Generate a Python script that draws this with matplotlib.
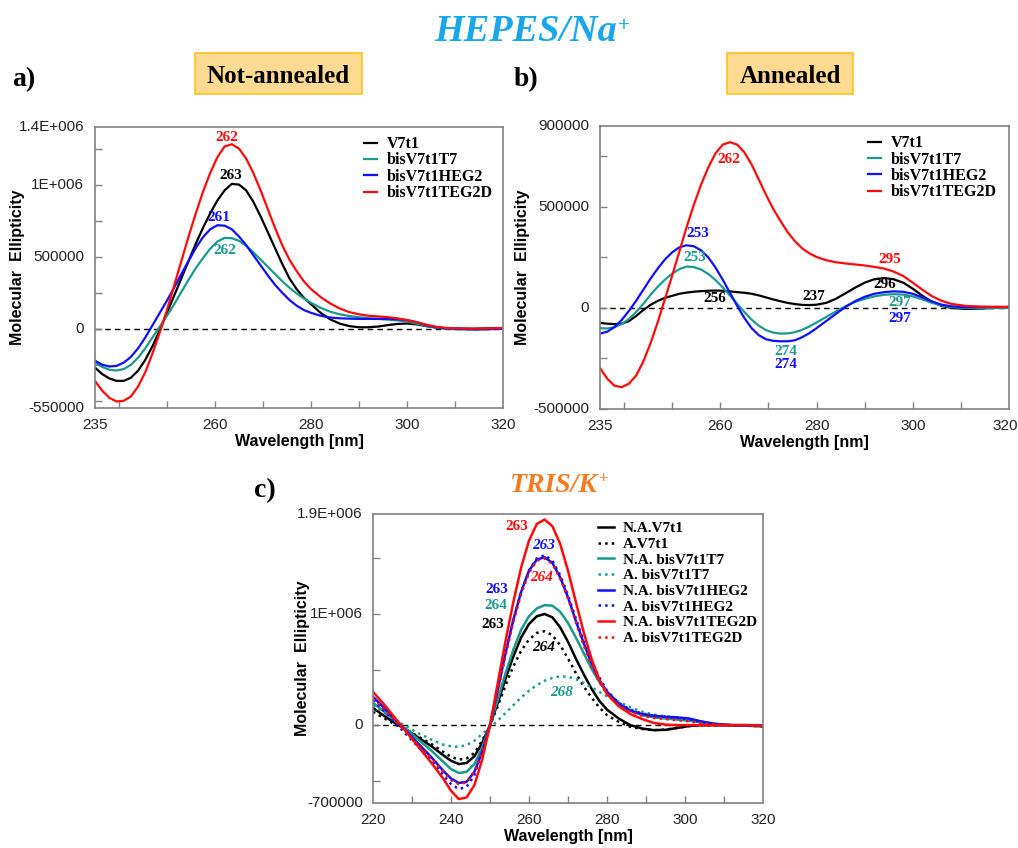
import matplotlib
matplotlib.use("Agg")
import matplotlib.pyplot as plt
from matplotlib.patches import Rectangle

SANS = "Liberation Sans"
SERIF = "Liberation Serif"

# ---- panel a / b (HEPES / Na+) ----
wl_ab = [235, 236.5, 238, 239.5, 241, 242.5, 244, 245.5, 247, 248.5, 250, 251.5,
         253, 254.5, 256, 257.5, 259, 260.5, 262, 263.5, 265, 266.5, 268, 269.5,
         271, 272.5, 274, 275.5, 277, 278.5, 280, 282, 284, 286, 288, 290,
         292, 294, 296, 298, 300, 302, 304, 306, 308, 311, 314, 317, 320]

# not annealed (values in 1e3)
a_v7t1 = [-270, -315, -345, -362, -362, -340, -290, -215, -120, -10, 110, 230,
          350, 470, 590, 700, 800, 890, 960, 1005, 1000, 960, 880, 780,
          670, 560, 450, 350, 275, 215, 170, 110, 65, 35, 18, 10,
          10, 15, 25, 33, 36, 30, 18, 8, 3, 0, 0, 2, 5]
a_t7 = [-235, -265, -285, -290, -280, -250, -200, -135, -60, 15, 90, 170,
        255, 340, 420, 490, 555, 605, 630, 628, 610, 575, 530, 480,
        430, 380, 330, 285, 245, 210, 180, 145, 118, 100, 88, 80,
        73, 68, 63, 58, 50, 35, 20, 8, 0, -5, -5, -3, 0]
a_heg2 = [-222, -250, -262, -258, -235, -195, -135, -60, 25, 110, 195, 285,
          380, 470, 560, 635, 690, 718, 715, 690, 640, 580, 510, 440,
          370, 305, 250, 200, 160, 130, 110, 90, 78, 72, 70, 68,
          68, 68, 68, 65, 60, 45, 25, 10, 3, 0, -5, -3, 0]
a_teg2d = [-363, -430, -480, -505, -500, -470, -400, -300, -170, -25, 130, 300,
           470, 640, 800, 950, 1080, 1190, 1265, 1280, 1250, 1180, 1080, 960,
           830, 700, 580, 480, 400, 330, 275, 220, 175, 140, 115, 100,
           90, 85, 80, 72, 60, 45, 28, 14, 6, 2, 0, 2, 5]

# annealed (values in 1e3)
b_v7t1 = [-74, -78, -80, -78, -65, -40, -10, 15, 35, 50, 60, 70,
          76, 80, 83, 85, 86, 85, 82, 78, 75, 70, 62, 52,
          42, 33, 25, 19, 15, 14, 16, 25, 45, 72, 100, 125,
          142, 148, 142, 125, 95, 60, 30, 10, 0, -5, -3, 0, 0]
b_t7 = [-100, -102, -95, -80, -55, -20, 20, 65, 105, 140, 170, 192,
        205, 202, 190, 168, 138, 102, 62, 20, -20, -58, -88, -110,
        -122, -127, -126, -120, -108, -92, -72, -45, -18, 8, 30, 45,
        57, 65, 68, 66, 57, 42, 25, 12, 4, 0, 0, 0, 0]
b_heg2 = [-127, -118, -95, -60, -15, 35, 90, 145, 195, 240, 275, 300,
          310, 305, 285, 250, 200, 140, 75, 10, -50, -100, -135, -155,
          -163, -165, -165, -160, -145, -125, -100, -65, -30, 5, 33, 55,
          70, 78, 82, 80, 70, 52, 32, 16, 8, 4, 4, 5, 5]
b_teg2d = [-297, -350, -385, -392, -375, -335, -265, -175, -70, 45, 160, 280,
           400, 510, 610, 695, 765, 808, 820, 808, 770, 710, 635, 560,
           490, 430, 375, 330, 295, 270, 252, 236, 226, 220, 215, 210,
           203, 195, 180, 158, 125, 90, 58, 35, 20, 10, 7, 5, 5]

# ---- panel c (TRIS / K+) ----
wl_c = [220, 223, 226, 229, 232, 235, 238, 240, 242, 244, 246, 248, 250, 252,
        254, 256, 258, 260, 262, 264, 266, 268, 270, 272, 274, 276, 278, 280,
        283, 286, 289, 292, 295, 298, 301, 304, 308, 312, 316, 320]

na_v7t1 = [155, 80, 10, -50, -120, -190, -270, -320, -350, -340, -280, -160, 0, 200,
           420, 620, 790, 910, 980, 1000, 970, 880, 750, 600, 460, 330, 220, 140,
           60, 0, -30, -45, -42, -25, -8, 0, 0, 0, -5, -10]
a_v7t1_c = [120, 60, 0, -50, -110, -170, -240, -285, -310, -300, -250, -140, 0, 170,
            360, 530, 670, 770, 830, 845, 810, 720, 600, 470, 350, 250, 160, 90,
            30, -15, -35, -45, -40, -25, -8, 0, 0, 0, -5, -10]
na_t7 = [200, 120, 30, -50, -140, -230, -330, -395, -430, -420, -350, -200, 0, 230,
         470, 680, 860, 980, 1050, 1080, 1075, 1020, 920, 790, 650, 510, 390, 300,
         200, 130, 90, 70, 60, 50, 40, 25, 5, 0, 0, -5]
a_t7_c = [180, 110, 40, -20, -80, -130, -175, -190, -195, -180, -140, -80, -20, 40,
          110, 180, 250, 310, 360, 400, 425, 440, 435, 415, 380, 340, 300, 260,
          210, 160, 120, 95, 80, 70, 55, 35, 10, 0, 0, -5]
na_heg2 = [255, 150, 40, -70, -180, -290, -410, -480, -520, -510, -420, -240, 0, 320,
           650, 950, 1200, 1390, 1490, 1510, 1460, 1330, 1150, 940, 740, 560, 410, 300,
           190, 130, 100, 85, 75, 70, 60, 35, 10, 0, 0, -5]
a_heg2_c = [225, 120, 10, -100, -210, -320, -450, -530, -575, -555, -450, -260, 0, 320,
            650, 950, 1200, 1390, 1500, 1530, 1480, 1350, 1170, 960, 760, 580, 430, 310,
            200, 140, 105, 85, 75, 65, 55, 30, 10, 0, 0, -5]
na_teg2d = [300, 180, 50, -80, -210, -340, -480, -590, -665, -650, -540, -310, 0, 380,
            760, 1110, 1420, 1660, 1810, 1850, 1790, 1630, 1390, 1110, 840, 600, 410, 280,
            170, 100, 55, 20, 5, 0, 0, 0, 0, 0, 0, -5]
a_teg2d_c = [240, 140, 30, -80, -190, -300, -420, -495, -530, -515, -420, -240, 0, 310,
             630, 930, 1180, 1370, 1480, 1500, 1450, 1320, 1140, 930, 720, 540, 390, 280,
             175, 120, 85, 65, 55, 45, 35, 20, 5, 0, 0, -5]

BLACK = "#000000"
TEAL = "#1a9a8c"
BLUE = "#1010ff"
RED = "#ff0a0a"


def k(vals):
    return [v * 1000 for v in vals]


def style_axes(ax, xlim, ylim, xticks, xlabels, yminor, ylabels, ylab_x):
    ax.set_xlim(*xlim)
    ax.set_ylim(*ylim)
    ax.set_xticks(xticks)
    ax.set_xticklabels([])
    ax.set_yticks(yminor)
    ax.set_yticklabels([])
    ax.tick_params(direction="in", length=5, color="#808080", width=1)
    for s in ax.spines.values():
        s.set_color("#808080")
        s.set_linewidth(1.2)
    for xv, lab in xlabels:
        ax.text(xv, -0.035, lab, transform=ax.get_xaxis_transform(),
                ha="center", va="top", fontsize=11, family=SANS, color="#222222")
    for yv, lab in ylabels:
        ax.text(-0.026, yv, lab, transform=ax.get_yaxis_transform(),
                ha="right", va="center", fontsize=11, family=SANS, color="#222222")
    ax.axhline(0, color="black", lw=1, ls=(0, (4, 3)), zorder=1)
    ax.set_xlabel("Wavelength [nm]", fontsize=11.5, fontweight="bold", family=SANS, labelpad=15)
    ax.set_ylabel("Molecular  Ellipticity", fontsize=11.5, fontweight="bold", family=SANS)
    ax.yaxis.set_label_coords(ylab_x, 0.5)


def legend(ax, anchor, spacing, size, hlen):
    return ax.legend(loc="upper right", bbox_to_anchor=anchor, frameon=False,
                     handlelength=hlen, handletextpad=0.6, labelspacing=spacing,
                     borderaxespad=0,
                     prop={"family": SERIF, "weight": "bold", "size": size})


fig = plt.figure(figsize=(10.18, 8.48), dpi=100)

# ---- panel a ----
ax_a = fig.add_axes([0.0933, 0.5189, 0.4008, 0.3314])
ax_a.plot(wl_ab, k(a_v7t1), color=BLACK, lw=1.6, label="V7t1")
ax_a.plot(wl_ab, k(a_t7), color=TEAL, lw=1.6, label="bisV7t1T7")
ax_a.plot(wl_ab, k(a_heg2), color=BLUE, lw=1.6, label="bisV7t1HEG2")
ax_a.plot(wl_ab, k(a_teg2d), color=RED, lw=1.6, label="bisV7t1TEG2D")
style_axes(ax_a, (235, 320), (-550000, 1400000), list(range(240, 320, 10)),
           [(235, "235"), (260, "260"), (280, "280"), (300, "300"), (320, "320")],
           list(range(-500000, 1400001, 250000)),
           [(1400000, "1.4E+006"), (1000000, "1E+006"), (500000, "500000"),
            (0, "0"), (-550000, "-550000")], -0.172)
legend(ax_a, (0.99, 0.99), 0.02, 11.5, 0.8)
lab_a = [(262.4, 1327000, "262", RED), (263.3, 1060000, "263", BLACK),
         (260.8, 772000, "261", BLUE), (262.1, 540000, "262", TEAL)]
for x, y, t, c in lab_a:
    ax_a.text(x, y, t, color=c, ha="center", va="center", fontsize=11,
              family=SERIF, fontweight="bold")

# ---- panel b ----
ax_b = fig.add_axes([0.5894, 0.5177, 0.4018, 0.3337])
ax_b.plot(wl_ab, k(b_v7t1), color=BLACK, lw=1.6, label="V7t1")
ax_b.plot(wl_ab, k(b_t7), color=TEAL, lw=1.6, label="bisV7t1T7")
ax_b.plot(wl_ab, k(b_heg2), color=BLUE, lw=1.6, label="bisV7t1HEG2")
ax_b.plot(wl_ab, k(b_teg2d), color=RED, lw=1.6, label="bisV7t1TEG2D")
style_axes(ax_b, (235, 320), (-500000, 900000), list(range(240, 320, 10)),
           [(235, "235"), (260, "260"), (280, "280"), (300, "300"), (319.2, "320")],
           list(range(-500000, 900001, 250000)),
           [(900000, "900000"), (500000, "500000"), (0, "0"), (-500000, "-500000")], -0.171)
legend(ax_b, (0.985, 0.99), 0.02, 11.5, 0.8)
lab_b = [(261.7, 734000, "262", RED), (255.4, 368000, "253", BLUE),
         (254.7, 248000, "253", TEAL), (258.9, 45000, "256", BLACK),
         (279.5, 58000, "237", BLACK), (294.2, 115000, "296", BLACK),
         (295.2, 239000, "295", RED), (297.2, 28000, "297", TEAL),
         (297.2, -50000, "297", BLUE), (273.7, -215000, "274", TEAL),
         (273.7, -280000, "274", BLUE)]
for x, y, t, c in lab_b:
    ax_b.text(x, y, t, color=c, ha="center", va="center", fontsize=11,
              family=SERIF, fontweight="bold")

# ---- panel c ----
ax_c = fig.add_axes([0.3664, 0.0531, 0.3831, 0.3408])
ax_c.plot(wl_c, k(na_v7t1), color=BLACK, lw=1.8, label="N.A.V7t1")
ax_c.plot(wl_c, k(a_v7t1_c), color=BLACK, lw=1.8, ls=":", label="A.V7t1")
ax_c.plot(wl_c, k(na_t7), color=TEAL, lw=1.8, label="N.A. bisV7t1T7")
ax_c.plot(wl_c, k(a_t7_c), color=TEAL, lw=1.8, ls=":", label="A. bisV7t1T7")
ax_c.plot(wl_c, k(na_heg2), color=BLUE, lw=1.8, label="N.A. bisV7t1HEG2")
ax_c.plot(wl_c, k(a_heg2_c), color=BLUE, lw=1.8, ls=":", label="A. bisV7t1HEG2")
ax_c.plot(wl_c, k(na_teg2d), color=RED, lw=1.8, label="N.A. bisV7t1TEG2D")
ax_c.plot(wl_c, k(a_teg2d_c), color=RED, lw=1.8, ls=":", label="A. bisV7t1TEG2D")
style_axes(ax_c, (220, 320), (-700000, 1900000), list(range(230, 320, 10)),
           [(v, str(v)) for v in range(220, 321, 20)],
           list(range(-500000, 1900001, 500000)),
           [(1900000, "1.9E+006"), (1000000, "1E+006"), (0, "0"), (-700000, "-700000")], -0.162)
legend(ax_c, (1.0, 0.995), 0.13, 11, 1.0)
lab_c = [(256.8, 1790000, "263", RED, "normal"), (263.7, 1620000, "263", BLUE, "italic"),
         (263.2, 1330000, "264", RED, "italic"), (251.7, 1220000, "263", BLUE, "normal"),
         (251.5, 1080000, "264", TEAL, "normal"), (250.8, 910000, "263", BLACK, "normal"),
         (263.7, 703000, "264", BLACK, "italic"), (268.4, 290000, "268", TEAL, "italic")]
for x, y, t, c, st in lab_c:
    ax_c.text(x, y, t, color=c, ha="center", va="center", fontsize=11,
              family=SERIF, fontweight="bold", fontstyle=st)

# ---- figure titles and boxes ----
W, H = 1018.0, 848.0
fig.text(617 / W, 1 - 41 / H, "HEPES/Na", ha="right", va="baseline", fontsize=27.5,
         family=SERIF, fontweight="bold", fontstyle="italic", color="#1aa6ea")
fig.text(618 / W, 1 - 31 / H, "+", ha="left", va="baseline", fontsize=15,
         family=SERIF, fontweight="bold", color="#1aa6ea")
fig.text(598 / W, 1 - 492 / H, "TRIS/K", ha="right", va="baseline", fontsize=20,
         family=SERIF, fontweight="bold", fontstyle="italic", color="#f47a20")
fig.text(598 / W, 1 - 483 / H, "+", ha="left", va="baseline", fontsize=12,
         family=SERIF, fontweight="bold", color="#f47a20")
for x, y, t in [(12, 86, "a)"), (514, 86, "b)"), (254, 497, "c)")]:
    fig.text(x / W, 1 - y / H, t, ha="left", va="baseline", fontsize=20,
             family=SERIF, fontweight="bold")

for x0, x1, t in [(195, 362, "Not-annealed"), (727, 853, "Annealed")]:
    fig.patches.append(Rectangle((x0 / W, 1 - 94 / H), (x1 - x0) / W, 41 / H,
                                 transform=fig.transFigure, facecolor="#ffdb92",
                                 edgecolor="#ffc220", lw=1.2))
    fig.text((x0 + x1) / 2 / W, 1 - 83 / H, t, ha="center", va="baseline",
             fontsize=18, family=SERIF, fontweight="bold")

fig.savefig("out.png", dpi=100)
